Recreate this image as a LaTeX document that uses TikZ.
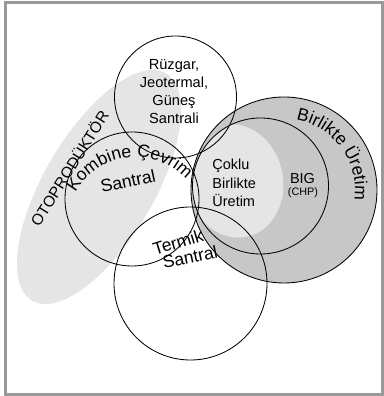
\documentclass[tikz,border=0pt]{standalone}
\usepackage{fontspec}
\setmainfont{Liberation Sans}
\usetikzlibrary{calc, decorations.text}
\definecolor{otogray}{gray}{0.9}
\definecolor{birgray}{gray}{0.78}
\definecolor{coklugray}{gray}{0.9}
\newcommand{\curvefont}{\fontsize{12.5}{15}\selectfont}

\begin{document}
\begin{tikzpicture}[x=0.25mm, y=0.25mm, line width=0.6pt,
  small/.style={font=\fontsize{10.4}{13}\selectfont, inner sep=0pt},
  big/.style={font=\curvefont, inner sep=0pt}]
\useasboundingbox (0,0) rectangle (383,396);
\draw[line width=2pt, black!40] (5.5,1.7) rectangle (382.5,393.8);

\coordinate (OT) at (99,209);
\coordinate (RZ) at (175.5,299);
\coordinate (KB) at (132,197);
\coordinate (TR) at (190.5,112.5);
\coordinate (BU) at (284,206);
\coordinate (BG) at (260.5,210);
\coordinate (CK) at (235,215);
\coordinate (KT) at (135.6,169.8);

% fills
\fill[otogray, rotate around={59.5:(OT)}] (OT) ellipse (132 and 55);
\fill[birgray] (BU) circle (93);
\begin{scope}
\clip (BG) circle (68);
\fill[coklugray, rotate around={12:(CK)}] (CK) ellipse (48 and 57);
\end{scope}

% circles
\draw (RZ) circle (61);
\draw (KB) circle (67);
\draw (TR) circle (76.5);
\draw (BU) circle (93);
\draw (BG) circle (68);

% texts
\node[small, align=center] (ruzgar) at (174,304.5) {R\"uzgar,\\Jeotermal,\\G\"une\c{s}\\Santrali};
\node[small, align=left, anchor=west, font=\fontsize{10.3}{13.2}\selectfont] (coklu) at (212,213) {\c{C}oklu\\Birlikte\\\"Uretim};
\node[small, font=\fontsize{10.3}{12}\selectfont] (big) at (302.5,217) {BIG};
\node[small, font=\fontsize{7.7}{9}\selectfont] (chp) at (303,203.5) {(CHP)};
\node[small, rotate=57.8, font=\fontsize{11}{13}\selectfont] (oto) at (69,228) {OTOPROD\"UKT\"OR};
\node[big, rotate=12] (santralk) at (128,215) {Santral};
\node[big, rotate=17] (termik) at (178,154) {Termik};
\node[big, rotate=12] (santralt) at (190,139) {Santral};

\path[decorate, decoration={text along path, text align=center,
  text={|\curvefont|Kombine Çevrim}}]
  ($(KT)+(156.7:69)$) arc[start angle=156.7, end angle=36.7, radius=69];
\path[decorate, decoration={text along path, text align=center,
  text={|\curvefont|Birlikte Üretim}}]
  ($(BU)+(96:71)$) arc[start angle=96, end angle=-24, radius=71];
\end{tikzpicture}
\end{document}
